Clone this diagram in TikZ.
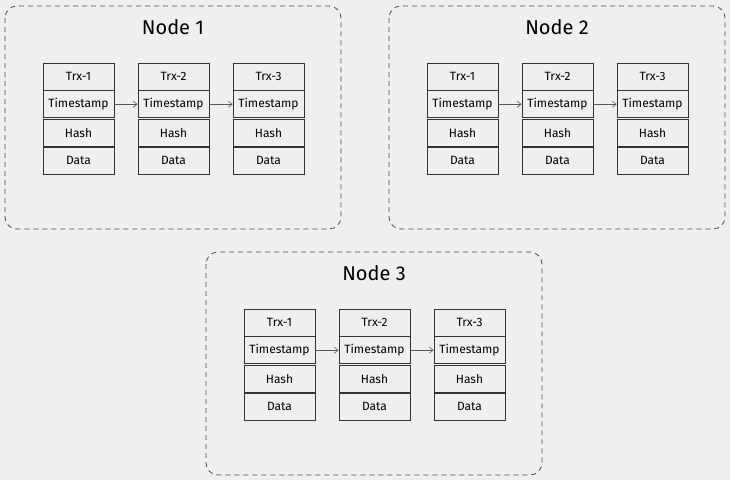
\documentclass[tikz,border=0pt]{standalone}
\usepackage{fontspec}
\setmainfont{Fira Sans}
\usetikzlibrary{positioning,arrows.meta}
\definecolor{bgGray}{HTML}{EFEFEF}
\definecolor{lineGray}{HTML}{4A4A4A}

\begin{document}
\begin{tikzpicture}[x=1pt,y=-1pt,
  cell/.style={draw=black!80,line width=0.7pt,fill=bgGray,minimum width=71pt,minimum height=27pt,inner sep=0pt,font=\fontsize{12}{14}\selectfont},
  group/.style={draw=lineGray,line width=0.8pt,dash pattern=on 5pt off 4pt,rounded corners=12pt},
  link/.style={draw=black!65,line width=0.6pt,-{Straight Barb[length=4pt,width=6pt]}}]
\fill[bgGray] (0,0) rectangle (730,480);
% one dashed box per node, three blocks inside
\foreach \g/\bx/\by in {1/5/6,2/389/6,3/206/252} {
  \draw[group] (\bx,\by) rectangle ++(336,223);
  \node[font=\fontsize{20}{24}\selectfont] (title\g) at (\bx+168,\by+21) {Node \g};
  \foreach \c in {1,2,3} {
    \node[cell] (g\g-\c-trx) at (\bx+73.5+95*\c-95,\by+70.5) {Trx-\c};
    \node[cell,below=0pt of g\g-\c-trx] (g\g-\c-ts) {Timestamp};
    \node[cell,below=1pt of g\g-\c-ts] (g\g-\c-hash) {Hash};
    \node[cell,below=0pt of g\g-\c-hash] (g\g-\c-data) {Data};
  }
  % chain links
  \draw[link] (g\g-1-ts.east) -- (g\g-2-ts.west);
  \draw[link] (g\g-2-ts.east) -- (g\g-3-ts.west);
}
\end{tikzpicture}
\end{document}
